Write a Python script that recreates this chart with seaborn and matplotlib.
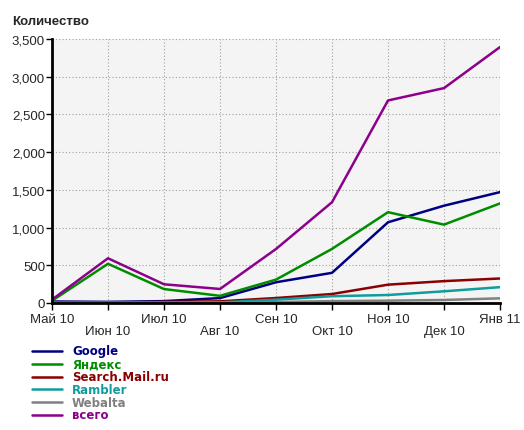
import pandas as pd
import numpy as np
import matplotlib.pyplot as plt
import seaborn as sns

# months on the x axis
months = ['Май 10', 'Июн 10', 'Июл 10', 'Авг 10', 'Сен 10',
          'Окт 10', 'Ноя 10', 'Дек 10', 'Янв 11']

# values
google = [20, 15, 25, 65, 275, 400, 1070, 1290, 1470]
yandex = [30, 520, 185, 95, 310, 717, 1204, 1039, 1320]
mail = [5, 5, 15, 22, 66, 119, 243, 290, 325]
rambler = [3, 3, 5, 8, 44, 90, 106, 155, 210]
webalta = [2, 2, 3, 5, 12, 25, 31, 40, 62]
total = [45, 593, 248, 186, 716, 1336, 2685, 2849, 3393]

names = ['Google', 'Яндекс', 'Search.Mail.ru', 'Rambler', 'Webalta', 'всего']
series = [google, yandex, mail, rambler, webalta, total]
colors = ['#000080', '#008c00', '#8b0000', '#109c9c', '#808080', '#8c008c']

rows = []
for name, vals in zip(names, series):
    for i, v in enumerate(vals):
        rows.append({'month': i, 'value': v, 'source': name})
df = pd.DataFrame(rows)

sns.set_style('white')
plt.rcParams['font.family'] = ['Liberation Sans', 'DejaVu Sans']

W, H = 524, 431
fig = plt.figure(figsize=(W / 100, H / 100), dpi=100)
ax = fig.add_axes([52 / W, 1 - 304 / H, 448 / W, 264 / H])
ax.set_facecolor('#f4f4f4')

sns.lineplot(data=df, x='month', y='value', hue='source', hue_order=names,
             palette=dict(zip(names, colors)), linewidth=1.8, ax=ax, legend=False)

ax.set_xlim(0, len(months) - 1)
ax.set_ylim(0, 3500)
ax.set_xticks(range(len(months)))
ax.set_xticklabels([m if i % 2 == 0 else '\n' + m for i, m in enumerate(months)],
                   fontsize=9.5, linespacing=1.0)
ax.set_yticks(range(0, 3501, 500))
ax.set_yticklabels([f'{v:,}' for v in range(0, 3501, 500)], fontsize=9.5)
ax.grid(True, color='#a0a0a0', linestyle=(0, (1, 2)), linewidth=0.8)
ax.set_xlabel('')
ax.set_ylabel('')
for side in ['top', 'right']:
    ax.spines[side].set_visible(False)
for side in ['left', 'bottom']:
    ax.spines[side].set_linewidth(2)
    ax.spines[side].set_color('black')
ax.tick_params(axis='x', direction='out', length=5, width=1, color='black', pad=2)
ax.tick_params(axis='y', direction='out', length=4, width=1, color='black', pad=1)
ax.tick_params(left=True, bottom=True)

fig.text(12 / W, 1 - 22 / H, 'Количество', fontsize=9.5, fontweight='bold', va='center')

# legend below the axes, text coloured like the lines
for i, (name, c) in enumerate(zip(names, colors)):
    y = 1 - (352 + i * 12.8) / H
    fig.add_artist(plt.Line2D([32 / W, 62 / W], [y, y], color=c, linewidth=1.8))
    fig.text(72 / W, y, name, color=c, fontsize=8.5, fontweight='bold',
             family='DejaVu Sans', va='center')

fig.savefig('out.png', dpi=100)
